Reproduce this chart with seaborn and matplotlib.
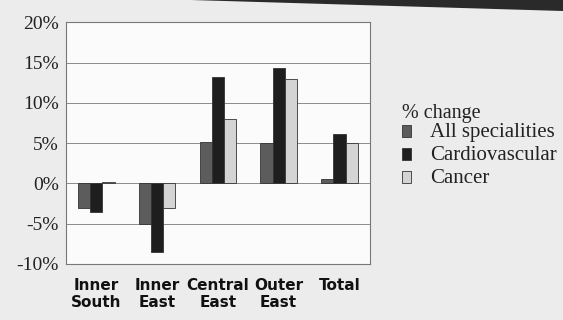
import matplotlib
matplotlib.use("Agg")
import matplotlib.pyplot as plt
import seaborn as sns
import pandas as pd
from matplotlib.patches import Polygon

regions = ["Inner\nSouth", "Inner\nEast", "Central\nEast", "Outer\nEast", "Total"]
series = ["All specialities", "Cardiovascular", "Cancer"]
all_specialities = [-3.0, -5.0, 5.2, 5.0, 0.5]
cardiovascular = [-3.5, -8.5, 13.2, 14.3, 6.2]
cancer = [0.2, -3.0, 8.0, 13.0, 5.0]
y_ticks = [-10, -5, 0, 5, 10, 15, 20]

df = pd.DataFrame({
    "region": regions * 3,
    "series": [series[0]] * 5 + [series[1]] * 5 + [series[2]] * 5,
    "value": all_specialities + cardiovascular + cancer,
})

sns.set_theme(style="white")
plt.rcParams["font.family"] = ["Liberation Serif", "DejaVu Serif"]

fig = plt.figure(figsize=(5.63, 3.2), dpi=100, facecolor="#ececec")
ax = fig.add_axes([0.117, 0.175, 0.54, 0.755])
ax.set_facecolor("#fbfbfb")

palette = {"All specialities": "#5c5c5c", "Cardiovascular": "#1e1e1e", "Cancer": "#d4d4d4"}
sns.barplot(data=df, x="region", y="value", hue="series", hue_order=series,
            palette=palette, width=0.6, edgecolor="#333333", linewidth=0.6,
            saturation=1, ax=ax, legend=False)

ax.set_ylim(-10, 20)
ax.set_yticks(y_ticks)
ax.set_yticklabels([f"{t}%" for t in y_ticks], fontsize=14, color="#222222")
ax.yaxis.grid(True, color="#8c8c8c", linewidth=0.7)
ax.set_axisbelow(True)
ax.tick_params(axis="y", length=0, pad=5)
ax.tick_params(axis="x", length=0, pad=10)
ax.set_xlabel("")
ax.set_ylabel("")
for lbl in ax.get_xticklabels():
    lbl.set_fontfamily(["DejaVu Sans"])
    lbl.set_fontweight("bold")
    lbl.set_fontsize(11)
    lbl.set_color("#111111")
    lbl.set_linespacing(1.15)
for s in ax.spines.values():
    s.set_color("#777777")
    s.set_linewidth(0.8)

# legend block to the right of the plot
fig.text(0.714, 0.631, "% change", fontsize=14.5, color="#222222", va="baseline")
ys = [0.572, 0.500, 0.428]
for name, y in zip(series, ys):
    fig.patches.append(plt.Rectangle((0.714, y), 0.016, 0.038,
                                     transform=fig.transFigure,
                                     facecolor=palette[name], edgecolor="#333333",
                                     linewidth=0.6))
    fig.text(0.764, y, name, fontsize=15, color="#222222", va="baseline")

# dark shadow band along the top edge
fig.patches.append(Polygon([(0.34, 1.0), (1.0, 1.0), (1.0, 0.965)],
                           closed=True, transform=fig.transFigure,
                           facecolor="#2a2a2a", edgecolor="none"))

fig.savefig("out.png", dpi=100, facecolor=fig.get_facecolor())
